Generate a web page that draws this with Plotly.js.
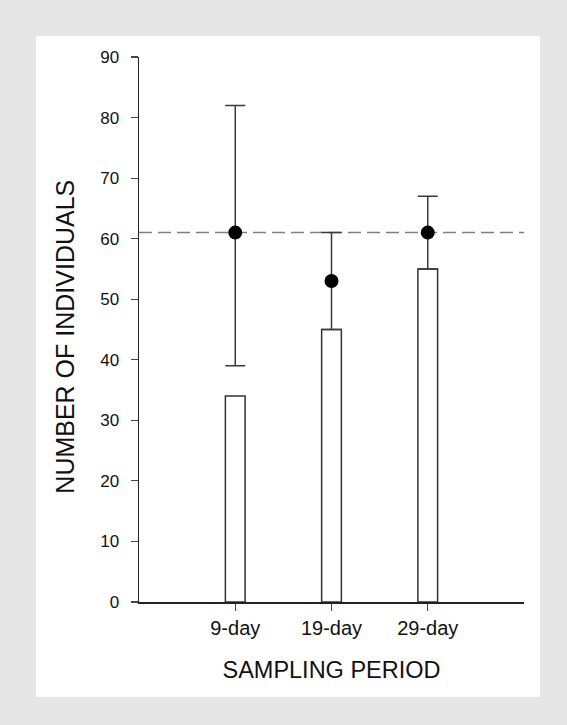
<!DOCTYPE html>
<html>
<head>
<meta charset="utf-8">
<script src="https://cdn.plot.ly/plotly-3.0.1.min.js"></script>
<style>html,body{margin:0;padding:0;background:#e6e6e6;}#chart{width:567px;height:725px;}</style>
</head>
<body>
<div id="chart"></div>
<script>
const periods = ["9-day", "19-day", "29-day"];
const barValues = [34, 45, 55];
const pointValues = [61, 53, 61];
const errorUpper = [21, 8, 6];
const errorLower = [22, 8, 6];
const referenceLevel = 61;
const yTicks = [0, 10, 20, 30, 40, 50, 60, 70, 80, 90];
const xTitle = "SAMPLING PERIOD";
const yTitle = "NUMBER OF INDIVIDUALS";

const FONT = "Liberation Sans, Arial, Helvetica, sans-serif";

const traces = [
  {
    type: "bar",
    x: periods,
    y: barValues,
    width: 0.205,
    marker: {color: "#ffffff", line: {color: "#333333", width: 1.5}},
    hoverinfo: "skip"
  },
  {
    type: "scatter",
    mode: "markers",
    x: periods,
    y: pointValues,
    marker: {color: "#000000", size: 14},
    error_y: {type: "data", symmetric: false, array: errorUpper, arrayminus: errorLower,
              color: "#3a3a3a", thickness: 1.5, width: 10}
  }
];

const layout = {
  width: 567, height: 725,
  margin: {l: 139, r: 43, t: 57, b: 123},
  paper_bgcolor: "#e6e6e6",
  plot_bgcolor: "rgba(0,0,0,0)",
  showlegend: false,
  font: {family: FONT, color: "#111111"},
  xaxis: {
    type: "category",
    range: [-1, 3],
    showgrid: false, zeroline: false,
    showline: true, linecolor: "#222222", linewidth: 1.5,
    ticks: "outside", ticklen: 7, tickwidth: 1.2, tickcolor: "#444444",
    ticklabelstandoff: 0,
    tickfont: {family: FONT, size: 20, color: "#111111"},
    title: {text: xTitle, font: {family: FONT, size: 23.5, color: "#111111"}, standoff: 24}
  },
  yaxis: {
    range: [0, 90],
    tickvals: yTicks,
    showgrid: false, zeroline: false,
    showline: true, linecolor: "#222222", linewidth: 1.5,
    ticks: "outside", ticklen: 7, tickwidth: 1.2, tickcolor: "#444444",
    ticklabelstandoff: 8,
    tickfont: {family: FONT, size: 17, color: "#111111"}
  },
  annotations: [
    {text: yTitle, xref: "paper", yref: "paper", x: -0.192, y: 0.487,
     xanchor: "center", yanchor: "middle", textangle: -90, showarrow: false,
     font: {family: FONT, size: 25, color: "#111111"}}
  ],
  shapes: [
    {type: "rect", xref: "paper", yref: "paper", x0: -0.2675, x1: 1.0416, y0: -0.1743, y1: 1.0385,
     fillcolor: "#ffffff", line: {width: 0}, layer: "below"},
    {type: "line", xref: "paper", yref: "y", x0: 0, x1: 1, y0: referenceLevel, y1: referenceLevel,
     line: {color: "#808080", width: 1.5, dash: "13px,6px"}, layer: "below"}
  ]
};

Plotly.newPlot("chart", traces, layout, {displayModeBar: false, staticPlot: true});
</script>
</body>
</html>
